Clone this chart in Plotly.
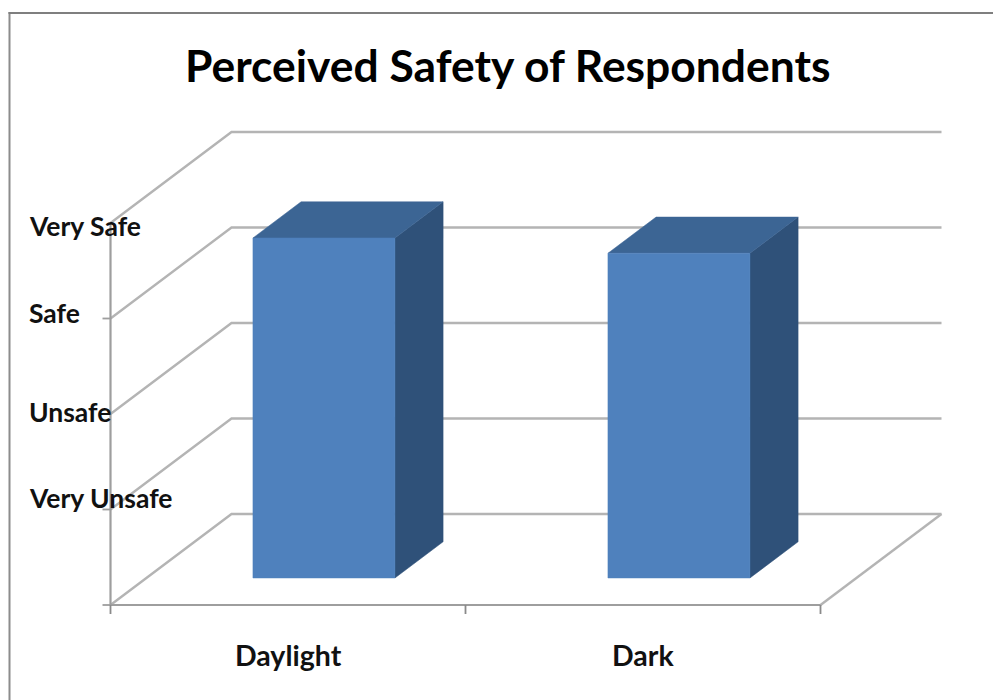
import plotly.graph_objects as go

# Data
categories = ["Daylight", "Dark"]
values = [3.56, 3.40]
level_labels = ["Very Safe", "Safe", "Unsafe", "Very Unsafe"]
level_label_y = [3.97, 3.06, 2.02, 1.12]
grid_values = [0, 1, 2, 3, 4]
title_text = "Perceived Safety of Respondents"

# Chart geometry (oblique projection in axis units)
W, H = 993, 700
X0, Y0 = 110.5, 605      # pixel position of the origin
PX_X, PX_Y = 355.0, 95.5 # pixels per axis unit
DEPTH_X, DEPTH_Y = 121 / PX_X, 91 / PX_Y
BAR_W, BAR_D0, BAR_D1 = 0.40, 0.297, 0.695

FRONT, TOP, SIDE = "#4F81BD", "#3C6594", "#2F5179"
GRID = "#B4B4B4"
AXIS = "#9E9E9E"
FONT = "Lato"


def proj(x, v, d=0.0):
    return x + d * DEPTH_X, v + d * DEPTH_Y


def poly(fig, pts, color):
    xs, ys = zip(*pts)
    fig.add_trace(go.Scatter(x=list(xs) + [xs[0]], y=list(ys) + [ys[0]], mode="lines",
                             fill="toself", fillcolor=color, line=dict(color=color, width=0.5),
                             hoverinfo="skip", showlegend=False))


def seg(fig, xs, ys, color, width):
    fig.add_trace(go.Scatter(x=xs, y=ys, mode="lines", line=dict(color=color, width=width),
                             hoverinfo="skip", showlegend=False))


fig = go.Figure()
n = len(categories)

# Walls and floor
for v in grid_values:
    a, b, c = proj(0, v, 0), proj(0, v, 1), proj(n, v, 1)
    seg(fig, [a[0], b[0], c[0]], [a[1], b[1], c[1]], GRID, 2.4)
a, b = proj(n, 0, 0), proj(n, 0, 1)
seg(fig, [a[0], b[0]], [a[1], b[1]], GRID, 2.4)

# Axis lines and ticks
seg(fig, [0, 0], [0, grid_values[-1]], AXIS, 2.2)
seg(fig, [0, n], [0, 0], AXIS, 2.2)
for v in grid_values[:-1]:
    seg(fig, [-8 / PX_X, 0], [v, v], AXIS, 1.8)
for i in range(n + 1):
    seg(fig, [i, i], [0, -9 / PX_Y], "#8A8A8A", 1.8)

# Bars
for i, v in enumerate(values):
    l, r = i + 0.5 - BAR_W / 2, i + 0.5 + BAR_W / 2
    poly(fig, [proj(r, 0, BAR_D0), proj(r, 0, BAR_D1), proj(r, v, BAR_D1), proj(r, v, BAR_D0)], SIDE)
    poly(fig, [proj(l, v, BAR_D0), proj(r, v, BAR_D0), proj(r, v, BAR_D1), proj(l, v, BAR_D1)], TOP)
    poly(fig, [proj(l, 0, BAR_D0), proj(r, 0, BAR_D0), proj(r, v, BAR_D0), proj(l, v, BAR_D0)], FRONT)

# Text
anns = []
for lab, y in zip(level_labels, level_label_y):
    anns.append(dict(x=(27 - X0) / PX_X, y=y, text=f"<b>{lab}</b>", showarrow=False, xanchor="left",
                     yanchor="middle", font=dict(family=FONT, size=26.5, color="#111111")))
for i, lab in enumerate(categories):
    anns.append(dict(x=i + 0.5, y=-0.52, text=f"<b>{lab}</b>", showarrow=False, xanchor="center",
                     yanchor="middle", font=dict(family=FONT, size=28.5, color="#111111")))
anns.append(dict(x=(508 - X0) / PX_X, y=(Y0 - 64) / PX_Y, text=f"<b>{title_text}</b>", showarrow=False,
                 xanchor="center", yanchor="middle", font=dict(family=FONT, size=44.4, color="#000000")))

fig.update_layout(
    width=W, height=H, margin=dict(l=0, r=0, t=0, b=0),
    paper_bgcolor="white", plot_bgcolor="white", showlegend=False, annotations=anns,
    xaxis=dict(range=[-X0 / PX_X, (W - X0) / PX_X], visible=False, fixedrange=True),
    yaxis=dict(range=[(Y0 - H) / PX_Y, Y0 / PX_Y], visible=False, fixedrange=True),
    shapes=[
        dict(type="line", xref="paper", yref="paper", x0=9.5 / W, x1=9.5 / W, y0=0, y1=1 - 12 / H,
             line=dict(color="#8C8C8C", width=2)),
        dict(type="line", xref="paper", yref="paper", x0=8.5 / W, x1=1, y0=1 - 13 / H, y1=1 - 13 / H,
             line=dict(color="#7F7F7F", width=2)),
    ],
)

fig.write_html("out.html", config={"displayModeBar": False},
               post_script="document.body.style.margin='0';document.body.style.overflow='hidden';")
